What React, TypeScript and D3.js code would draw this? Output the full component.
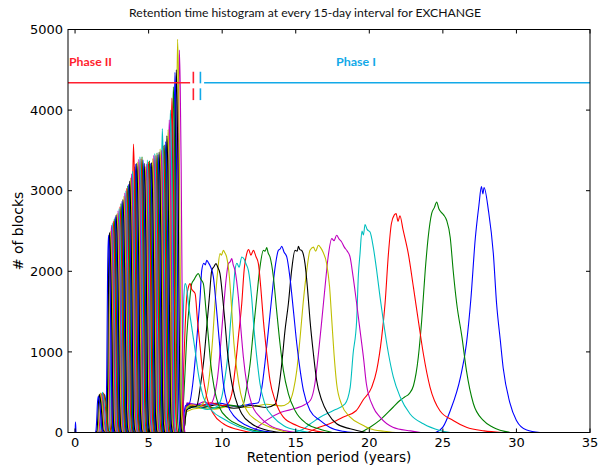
import React from "react";
import * as d3 from "d3";

const W = 601;
const H = 465;
const PLOT = { left: 68, right: 590, top: 29.5, bottom: 432.5 };

const titleText = "Retention time histogram at every 15-day interval for EXCHANGE";
const xLabel = "Retention period (years)";
const yLabel = "# of blocks";
const xTicks = [0, 5, 10, 15, 20, 25, 30, 35];
const yTicks = [0, 1000, 2000, 3000, 4000, 5000];
const palette = ["#0000ff", "#008000", "#ff0000", "#00bfbf", "#bf00bf", "#bfbf00", "#000000"];

type P = [number, number];

// ---- Phase I curves (broad): [years, blocks]
const p1Blue27: P[] = [[24.5,0],[25.0,66],[25.5,270],[26.2,690],[26.6,1100],[26.9,1650],[27.2,2400],[27.45,2820],[27.62,3050],[27.72,2960],[27.8,3040],[28.1,2750],[28.43,2220],[28.65,1600],[28.9,1150],[29.1,800],[29.55,370],[30.0,150],[30.7,30],[31.6,0]];
const p1Green24: P[] = [[19.4,0],[20.05,66],[20.7,150],[21.6,310],[22.1,400],[22.4,440],[22.7,480],[23.0,580],[23.33,935],[23.56,1390],[23.8,2010],[24.0,2420],[24.24,2720],[24.42,2790],[24.58,2860],[24.72,2780],[24.85,2740],[25.05,2700],[25.26,2630],[25.5,2420],[25.7,2010],[25.94,1600],[26.3,1180],[26.6,770],[27.07,360],[27.75,150],[28.4,66],[29.6,0]];
const p1Red21: P[] = [[15.8,0],[16.4,50],[17.3,110],[18.2,190],[19.1,270],[19.6,410],[20.16,560],[20.5,770],[20.84,1180],[21.07,1600],[21.3,2220],[21.5,2590],[21.7,2700],[21.82,2716],[21.95,2620],[22.08,2690],[22.3,2510],[22.65,2220],[23.0,1800],[23.33,1390],[23.67,980],[24.13,560],[24.8,270],[25.7,150],[26.6,66],[27.8,20],[29.0,0]];
const p1Cyan19: P[] = [[14.8,0],[15.5,40],[16.0,108],[16.65,190],[17.56,273],[18.35,356],[18.7,560],[18.9,980],[19.14,1390],[19.25,1930],[19.37,2220],[19.5,2500],[19.6,2450],[19.71,2580],[19.85,2520],[20.05,2488],[20.27,2300],[20.5,2010],[20.73,1680],[20.95,1390],[21.3,980],[21.63,690],[22.1,440],[22.77,230],[23.67,108],[24.8,25],[25.5,0]];
const p1Magenta17: P[] = [[12.0,0],[13.0,150],[14.0,250],[15.0,300],[15.6,345],[16.0,400],[16.3,605],[16.54,977],[16.77,1391],[16.99,1805],[17.2,2178],[17.45,2406],[17.6,2380],[17.78,2447],[17.95,2400],[18.1,2370],[18.3,2300],[18.5,2250],[18.69,2178],[18.9,1930],[19.14,1600],[19.37,1267],[19.6,935],[19.8,605],[20.27,314],[20.73,190],[21.6,66],[22.8,20],[23.5,0]];
const p1Yellow16: P[] = [[7.4,0],[7.6,260],[8.4,300],[9.5,290],[10.6,330],[11.8,310],[13.0,350],[14.0,330],[14.5,365],[14.84,522],[15.07,770],[15.3,1184],[15.5,1600],[15.75,2012],[15.97,2260],[16.2,2300],[16.35,2250],[16.54,2323],[16.7,2290],[16.85,2240],[17.1,2095],[17.3,1805],[17.45,1391],[17.6,977],[17.78,605],[18.1,356],[18.7,190],[19.6,87],[20.05,46],[21.0,15],[21.8,0]];
const p1Black15: P[] = [[7.4,0],[7.6,330],[8.6,310],[9.7,345],[10.8,300],[12.0,335],[13.0,310],[13.6,350],[13.82,522],[14.05,853],[14.27,1267],[14.5,1600],[14.72,2012],[14.95,2260],[15.1,2250],[15.18,2310],[15.28,2270],[15.4,2260],[15.63,2095],[15.79,1805],[15.97,1391],[16.2,977],[16.42,646],[16.77,398],[17.2,232],[17.78,108],[18.7,46],[19.8,0]];
const p1Blue14: P[] = [[7.4,0],[7.6,360],[8.7,340],[9.8,365],[10.9,325],[12.0,355],[12.46,370],[12.7,563],[12.9,853],[13.14,1267],[13.37,1681],[13.6,2054],[13.82,2260],[13.95,2280],[14.05,2310],[14.2,2240],[14.39,2178],[14.6,1930],[14.84,1515],[15.07,1101],[15.3,770],[15.52,522],[15.97,273],[16.65,150],[17.3,66],[18.2,15],[19.0,0]];
const p1Green13: P[] = [[7.4,0],[7.6,300],[8.5,335],[9.6,305],[10.5,340],[11.2,320],[11.44,356],[11.67,563],[11.9,853],[12.12,1267],[12.35,1681],[12.57,2054],[12.8,2260],[12.92,2250],[13.03,2294],[13.12,2230],[13.25,2178],[13.48,1930],[13.7,1515],[13.93,1101],[14.16,770],[14.5,480],[14.95,273],[15.75,108],[16.65,40],[17.5,0]];
const p1Red12: P[] = [[7.4,0],[7.6,350],[8.4,320],[9.2,370],[10.0,335],[10.3,345],[10.65,480],[10.87,770],[11.1,1184],[11.33,1600],[11.49,2012],[11.67,2220],[11.8,2270],[11.95,2200],[12.12,2260],[12.3,2180],[12.46,2095],[12.62,1805],[12.8,1391],[13.03,977],[13.25,646],[13.6,398],[14.16,190],[15.07,87],[16.3,20],[17.0,0]];
const p1Cyan11: P[] = [[7.4,0],[7.6,290],[8.3,320],[9.0,285],[9.63,320],[9.97,439],[10.2,687],[10.42,1019],[10.58,1391],[10.76,1764],[10.87,2012],[11.0,2100],[11.15,2050],[11.33,2178],[11.5,2150],[11.6,2100],[11.78,2012],[12.0,1681],[12.17,1267],[12.35,935],[12.57,605],[12.9,356],[13.48,190],[14.16,87],[15.3,20],[16.0,0]];
const p1Magenta10: P[] = [[7.4,0],[7.6,370],[8.2,345],[8.8,380],[9.17,350],[9.5,480],[9.74,770],[9.9,1101],[10.08,1515],[10.26,1888],[10.42,2095],[10.55,2120],[10.65,2157],[10.75,2080],[10.87,2012],[11.1,1681],[11.26,1308],[11.44,935],[11.67,605],[12.0,356],[12.57,190],[13.25,87],[14.3,20],[15.0,0]];
const p1Yellow10: P[] = [[7.4,0],[7.6,310],[8.0,345],[8.3,315],[8.6,340],[8.95,480],[9.17,770],[9.36,1184],[9.51,1600],[9.7,2012],[9.85,2220],[9.95,2200],[10.08,2260],[10.18,2230],[10.3,2178],[10.49,1930],[10.65,1515],[10.8,1101],[11.0,770],[11.26,480],[11.67,273],[12.35,150],[13.25,66],[14.5,0]];
const p1Black9: P[] = [[7.4,0],[7.6,280],[7.9,310],[8.27,330],[8.54,605],[8.77,935],[8.95,1308],[9.13,1681],[9.29,2012],[9.45,2060],[9.58,2095],[9.7,2050],[9.85,1971],[10.03,1681],[10.2,1350],[10.35,1019],[10.58,687],[10.87,439],[11.33,232],[12.0,108],[13.0,30],[14.0,0]];
const p1Blue9: P[] = [[7.3,0],[7.5,330],[7.77,360],[8.0,605],[8.18,935],[8.34,1308],[8.5,1681],[8.61,2012],[8.75,2100],[8.85,2080],[8.95,2137],[9.05,2110],[9.2,2060],[9.4,1930],[9.58,1600],[9.74,1267],[9.9,935],[10.08,605],[10.35,356],[10.87,190],[11.67,87],[12.7,20],[13.5,0]];
const p1Green8: P[] = [[7.0,0],[7.2,100],[7.36,356],[7.48,770],[7.59,1184],[7.77,1600],[7.93,1847],[8.1,1900],[8.25,1950],[8.38,1971],[8.55,1900],[8.72,1847],[8.9,1515],[9.06,1184],[9.22,853],[9.45,563],[9.81,314],[10.42,170],[11.2,87],[12.3,20],[13.0,0]];
const p1Red7: P[] = [[7.15,0],[7.3,300],[7.38,800],[7.48,1300],[7.59,1681],[7.7,1800],[7.82,1847],[7.92,1780],[8.0,1760],[8.16,1723],[8.32,1391],[8.5,1060],[8.68,729],[8.95,439],[9.4,232],[10.08,108],[11.0,40],[12.0,0]];
const p1Cyan7: P[] = [[7.1,0],[7.2,300],[7.3,1000],[7.4,1700],[7.48,1847],[7.58,1800],[7.7,1600],[7.93,1308],[8.16,1019],[8.38,729],[8.72,439],[9.29,273],[10.08,170],[11.0,80],[12.0,20],[13.0,0]];

const phaseICurves: P[][] = [
  p1Blue27, p1Green24, p1Red21, p1Cyan19, p1Magenta17, p1Yellow16, p1Black15,
  p1Blue14, p1Green13, p1Red12, p1Cyan11, p1Magenta10, p1Yellow10, p1Black9,
  p1Blue9, p1Green8, p1Red7, p1Cyan7,
];

// ---- Phase II curves (narrow): peak position (years) and peak height (blocks)
const phaseIIPeakX = [
  7.09, 6.97, 6.88, 6.79, 6.68, 6.58, 6.48, 6.40, 6.32, 6.24, 6.16, 6.09, 6.01, 5.93,
  5.86, 5.78, 5.71, 5.64, 5.57, 5.49, 5.42, 5.35, 5.28, 5.20, 5.13, 5.06, 4.99, 4.91,
  4.84, 4.77, 4.70, 4.62, 4.55, 4.48, 4.41, 4.33, 4.26, 4.19, 4.12, 4.04, 3.97,
  3.90, 3.84, 3.77, 3.71, 3.64, 3.58, 3.51, 3.45, 3.38, 3.32, 3.25, 3.19, 3.12,
  3.05, 2.99, 2.92, 2.86, 2.79, 2.73, 2.66, 2.60, 2.53, 2.47, 2.40, 2.34, 2.27,
];
const phaseIIPeakY = [
  4745, 4878, 4500, 4470, 4290, 4150, 4000, 3880, 3760, 3680, 3610, 3570, 3560, 3770,
  3500, 3520, 3480, 3450, 3470, 3440, 3460, 3440, 3400, 3350, 3340, 3370, 3360, 3380,
  3330, 3300, 3340, 3380, 3420, 3400, 3420, 3390, 3360, 3340, 3330, 3300, 3580,
  3240, 3210, 3160, 3120, 3080, 3060, 3030, 3000, 2970, 2930, 2890, 2870, 2840,
  2800, 2780, 2750, 2720, 2700, 2680, 2650, 2620, 2600, 2570, 2500, 2480, 2450,
];
const bumpPeakX = [2.0, 1.93, 1.86, 1.79, 1.72, 1.65, 1.58];
const bumpPeakY = [470, 490, 500, 480, 490, 470, 450];
// common narrow profile of a phase II histogram: [offset in years, fraction of peak]
const phaseIIProfile: P[] = [[-0.22,0],[-0.16,0.05],[-0.11,0.35],[-0.06,0.8],[0,1],[0.06,0.9],[0.12,0.7],[0.18,0.4],[0.24,0.12],[0.3,0.03],[0.38,0]];
const zeroSpike: P[] = [[-0.4,0],[0.0,0],[0.03,130],[0.07,0],[1.2,0]];

// ---- Phase markers
const phaseLineY = 4340;
const phaseIIEndX = 7.82;
const breakRedX = 8.04;
const breakCyanX = 8.52;
const phaseIStartX = 8.77;
const breakSegments: [number, number][] = [[4476, 4332], [4270, 4124]];

export default function App() {
  const x = d3.scaleLinear().domain([-0.48, 35]).range([PLOT.left, PLOT.right]);
  const y = d3.scaleLinear().domain([0, 5000]).range([PLOT.bottom, PLOT.top]);
  const line = d3
    .line<P>()
    .x((d) => x(d[0]))
    .y((d) => y(d[1]))
    .curve(d3.curveMonotoneX);

  const curves: P[][] = [...phaseICurves];
  phaseIIPeakX.forEach((p, i) => {
    curves.push(phaseIIProfile.map(([dx, r]) => [p + dx, r * phaseIIPeakY[i]] as P));
  });
  bumpPeakX.forEach((p, i) => {
    const pts = phaseIIProfile.map(([dx, r]) => [p + dx, r * bumpPeakY[i]] as P);
    curves.push(i === bumpPeakX.length - 1 ? [...zeroSpike, ...pts] : pts);
  });

  const red = "#ff1f2f";
  const cyan = "#12a9e8";
  const fontAxis = "'DejaVu Sans', sans-serif";

  return (
    <svg width={W} height={H} style={{ position: "fixed", left: 0, top: 0, background: "#fff" }}>
      <rect x={0} y={0} width={W} height={H} fill="#fff" />
      <defs>
        <clipPath id="plotClip">
          <rect x={PLOT.left} y={PLOT.top} width={PLOT.right - PLOT.left} height={PLOT.bottom - PLOT.top} />
        </clipPath>
      </defs>
      <text x={305} y={16.5} textAnchor="middle" fontFamily="Lato, 'Open Sans', sans-serif" fontSize={12} textLength={352} lengthAdjust="spacingAndGlyphs" fill="#111">
        {titleText}
      </text>
      <g clipPath="url(#plotClip)">
        {curves.map((c, i) => (
          <path key={i} d={line(c) || ""} fill="none" stroke={palette[i % 7]} strokeWidth={1.1} strokeLinejoin="round" />
        ))}
      </g>
      {/* phase markers */}
      <line x1={x(-0.48)} x2={x(phaseIIEndX)} y1={y(phaseLineY)} y2={y(phaseLineY)} stroke={red} strokeWidth={1.6} />
      <line x1={x(phaseIStartX)} x2={x(35)} y1={y(phaseLineY)} y2={y(phaseLineY)} stroke={cyan} strokeWidth={1.6} />
      {breakSegments.map(([a, b], i) => (
        <g key={i}>
          <line x1={x(breakRedX)} x2={x(breakRedX)} y1={y(a)} y2={y(b)} stroke={red} strokeWidth={1.6} />
          <line x1={x(breakCyanX)} x2={x(breakCyanX)} y1={y(a)} y2={y(b)} stroke={cyan} strokeWidth={1.6} />
        </g>
      ))}
      <text x={69} y={65.5} fontFamily="Lato, sans-serif" fontWeight="bold" fontSize={11} fill={red} textLength={43} lengthAdjust="spacingAndGlyphs">Phase II</text>
      <text x={336} y={65.5} fontFamily="Lato, sans-serif" fontWeight="bold" fontSize={11} fill={cyan} textLength={40} lengthAdjust="spacingAndGlyphs">Phase I</text>
      {/* frame */}
      <rect x={PLOT.left} y={PLOT.top} width={PLOT.right - PLOT.left} height={PLOT.bottom - PLOT.top} fill="none" stroke="#000" strokeWidth={1} />
      {xTicks.map((t) => (
        <g key={"x" + t}>
          <line x1={x(t)} x2={x(t)} y1={PLOT.bottom} y2={PLOT.bottom - 4} stroke="#000" />
          <line x1={x(t)} x2={x(t)} y1={PLOT.top} y2={PLOT.top + 4} stroke="#000" />
          <text x={x(t)} y={447} textAnchor="middle" fontFamily={fontAxis} fontSize={13} fill="#000">{t}</text>
        </g>
      ))}
      {yTicks.map((t) => (
        <g key={"y" + t}>
          <line x1={PLOT.left} x2={PLOT.left + 4} y1={y(t)} y2={y(t)} stroke="#000" />
          <line x1={PLOT.right} x2={PLOT.right - 4} y1={y(t)} y2={y(t)} stroke="#000" />
          <text x={63} y={y(t) + 4.7} textAnchor="end" fontFamily={fontAxis} fontSize={13} fill="#000">{t}</text>
        </g>
      ))}
      <text x={329} y={462} textAnchor="middle" fontFamily={fontAxis} fontSize={13.5} fill="#000">{xLabel}</text>
      <text transform={`translate(22.5,${(PLOT.top + PLOT.bottom) / 2}) rotate(-90)`} textAnchor="middle" fontFamily={fontAxis} fontSize={14} fill="#000">{yLabel}</text>
    </svg>
  );
}
